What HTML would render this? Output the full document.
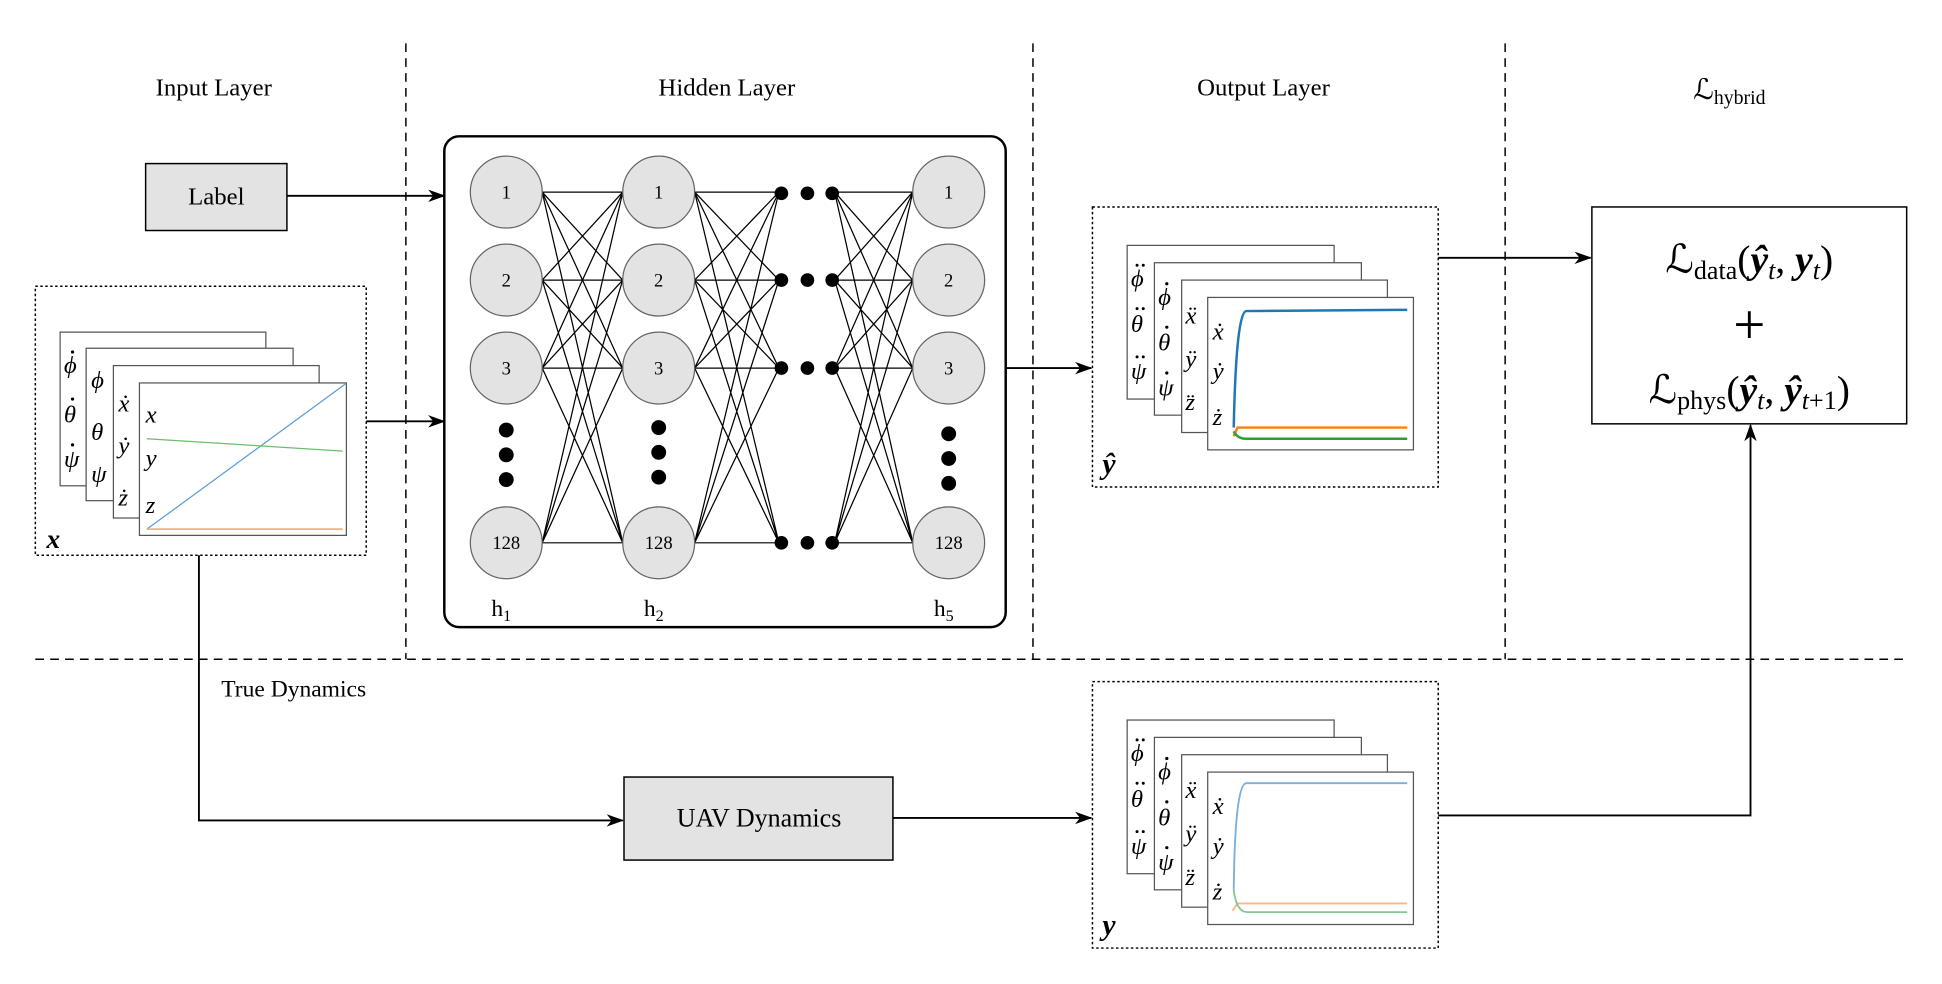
<!DOCTYPE html>
<html><head><meta charset="utf-8"><style>
html,body{margin:0;padding:0;background:#fff;}
svg{display:block;}
text{font-family:"Liberation Serif","DejaVu Serif",serif;fill:#000;}
.m{font-style:italic;}
</style></head><body>
<svg width="1942" height="984" viewBox="0 0 1566 794" xmlns="http://www.w3.org/2000/svg">
<defs>
<marker id="a" markerWidth="14" markerHeight="10" refX="13" refY="5" orient="auto" markerUnits="userSpaceOnUse">
<path d="M0,0 L14,5 L0,10 L4,5 Z" fill="#000"/></marker>
</defs>
<g stroke="#000" stroke-width="1.2" stroke-dasharray="7,5" fill="none">
<line x1="327" y1="35" x2="327" y2="532"/>
<line x1="833" y1="35" x2="833" y2="532"/>
<line x1="1214" y1="35" x2="1214" y2="532"/>
<line x1="28" y1="532" x2="1540" y2="532"/>
</g>
<g font-size="20" text-anchor="middle">
<text x="172" y="77">Input Layer</text>
<text x="586" y="77">Hidden Layer</text>
<text x="1019" y="77">Output Layer</text>
<text x="1395" y="80" font-size="23">ℒ<tspan font-size="16" dy="4">hybrid</tspan></text>
</g>
<rect x="117" y="132" width="114" height="54" fill="#e3e3e3" stroke="#000" stroke-width="1.2"/>
<text x="174" y="165" font-size="20" text-anchor="middle">Label</text>
<line x1="231" y1="158" x2="358" y2="158" stroke="#000" stroke-width="1.5" marker-end="url(#a)"/>
<rect x="28" y="231" width="267" height="217" fill="none" stroke="#000" stroke-width="1.2" stroke-dasharray="2,2"/>
<line x1="295" y1="340" x2="358" y2="340" stroke="#000" stroke-width="1.5" marker-end="url(#a)"/>
<g stroke="#555" stroke-width="1" fill="#fff">
<rect x="48" y="268" width="166" height="124"/>
<rect x="69" y="281" width="167" height="123"/>
<rect x="91" y="295" width="166" height="123"/>
<rect x="112" y="309" width="167" height="123"/>
</g>
<g font-size="20">
<text x="51" y="301" class="m">ϕ</text><text x="51" y="341" class="m">θ</text><text x="51" y="377" class="m">ψ</text>
<text x="73" y="313" class="m">ϕ</text><text x="73" y="355" class="m">θ</text><text x="73" y="389" class="m">ψ</text>
<text x="95" y="332" class="m">ẋ</text><text x="95" y="366" class="m">ẏ</text><text x="95" y="408" class="m">ż</text>
<text x="117" y="341" class="m">x</text><text x="117" y="376" class="m">y</text><text x="117" y="414" class="m">z</text>
</g>
<g fill="#000">
<circle cx="58" cy="284" r="1.3"/><circle cx="58" cy="322" r="1.3"/><circle cx="58" cy="359" r="1.3"/>
</g>
<line x1="118" y1="427" x2="278" y2="310" stroke="#5b9bd5" stroke-width="1"/>
<line x1="118" y1="354" x2="276" y2="364" stroke="#6cbf6c" stroke-width="1"/>
<line x1="118" y1="427" x2="276" y2="427" stroke="#f5b07a" stroke-width="1.4"/>
<text x="37" y="442" font-size="22" font-weight="bold" class="m">x</text>
<rect x="358" y="110" width="453" height="396" rx="12" fill="none" stroke="#000" stroke-width="2"/>
<g stroke="#000" stroke-width="1">
<path d="
M437,155L502,155 M437,155L502,226 M437,155L502,297 M437,155L502,438
M437,226L502,155 M437,226L502,226 M437,226L502,297 M437,226L502,438
M437,297L502,155 M437,297L502,226 M437,297L502,297 M437,297L502,438
M437,438L502,155 M437,438L502,226 M437,438L502,297 M437,438L502,438
M560,155L628,155 M560,155L628,226 M560,155L628,297 M560,155L628,438
M560,226L628,155 M560,226L628,226 M560,226L628,297 M560,226L628,438
M560,297L628,155 M560,297L628,226 M560,297L628,297 M560,297L628,438
M560,438L628,155 M560,438L628,226 M560,438L628,297 M560,438L628,438
M673,155L736,155 M673,155L736,226 M673,155L736,297 M673,155L736,438
M673,226L736,155 M673,226L736,226 M673,226L736,297 M673,226L736,438
M673,297L736,155 M673,297L736,226 M673,297L736,297 M673,297L736,438
M673,438L736,155 M673,438L736,226 M673,438L736,297 M673,438L736,438" fill="none"/>
</g>
<g fill="#e3e3e3" stroke="#666" stroke-width="1">
<circle cx="408" cy="155" r="29"/><circle cx="408" cy="226" r="29"/><circle cx="408" cy="297" r="29"/><circle cx="408" cy="438" r="29"/>
<circle cx="531" cy="155" r="29"/><circle cx="531" cy="226" r="29"/><circle cx="531" cy="297" r="29"/><circle cx="531" cy="438" r="29"/>
<circle cx="765" cy="155" r="29"/><circle cx="765" cy="226" r="29"/><circle cx="765" cy="297" r="29"/><circle cx="765" cy="438" r="29"/>
</g>
<g font-size="15" text-anchor="middle">
<text x="408" y="160">1</text><text x="408" y="231">2</text><text x="408" y="302">3</text><text x="408" y="443">128</text>
<text x="531" y="160">1</text><text x="531" y="231">2</text><text x="531" y="302">3</text><text x="531" y="443">128</text>
<text x="765" y="160">1</text><text x="765" y="231">2</text><text x="765" y="302">3</text><text x="765" y="443">128</text>
</g>
<g fill="#000">
<circle cx="408" cy="347" r="6"/><circle cx="408" cy="367" r="6"/><circle cx="408" cy="387" r="6"/>
<circle cx="531" cy="345" r="6"/><circle cx="531" cy="365" r="6"/><circle cx="531" cy="385" r="6"/>
<circle cx="765" cy="350" r="6"/><circle cx="765" cy="370" r="6"/><circle cx="765" cy="390" r="6"/>
<circle cx="630" cy="156" r="5.5"/><circle cx="651" cy="156" r="5.5"/><circle cx="671" cy="156" r="5.5"/>
<circle cx="630" cy="226" r="5.5"/><circle cx="651" cy="226" r="5.5"/><circle cx="671" cy="226" r="5.5"/>
<circle cx="630" cy="297" r="5.5"/><circle cx="651" cy="297" r="5.5"/><circle cx="671" cy="297" r="5.5"/>
<circle cx="630" cy="438" r="5.5"/><circle cx="651" cy="438" r="5.5"/><circle cx="671" cy="438" r="5.5"/>
</g>
<g font-size="19" text-anchor="middle">
<text x="404" y="497">h<tspan font-size="13" dy="4">1</tspan></text>
<text x="527" y="497">h<tspan font-size="13" dy="4">2</tspan></text>
<text x="761" y="497">h<tspan font-size="13" dy="4">5</tspan></text>
</g>
<line x1="811" y1="297" x2="880" y2="297" stroke="#000" stroke-width="1.5" marker-end="url(#a)"/>
<rect x="881" y="167" width="279" height="226" fill="none" stroke="#000" stroke-width="1.2" stroke-dasharray="2,2"/>
<g stroke="#555" stroke-width="1" fill="#fff">
<rect x="909" y="198" width="167" height="124"/>
<rect x="931" y="212" width="167" height="123"/>
<rect x="953" y="226" width="166" height="123"/>
<rect x="974" y="240" width="166" height="123"/>
</g>
<g font-size="20">
<text x="912" y="231" class="m">ϕ</text><text x="912" y="268" class="m">θ</text><text x="912" y="306" class="m">ψ</text>
<text x="934" y="246" class="m">ϕ</text><text x="934" y="283" class="m">θ</text><text x="934" y="319" class="m">ψ</text>
<text x="956" y="261" class="m">ẍ</text><text x="956" y="296" class="m">ÿ</text><text x="956" y="331" class="m">z̈</text>
<text x="978" y="274" class="m">ẋ</text><text x="978" y="306" class="m">ẏ</text><text x="978" y="343" class="m">ż</text>
</g>
<g fill="#000">
<circle cx="917" cy="214" r="1.2"/><circle cx="922" cy="214" r="1.2"/>
<circle cx="917" cy="249" r="1.2"/><circle cx="922" cy="249" r="1.2"/>
<circle cx="917" cy="288" r="1.2"/><circle cx="922" cy="288" r="1.2"/>
<circle cx="941" cy="229" r="1.3"/><circle cx="941" cy="264" r="1.3"/><circle cx="941" cy="301" r="1.3"/>
</g>
<path d="M995,345 Q997,252 1005,251 L1135,250" fill="none" stroke="#1f77b4" stroke-width="2"/>
<path d="M995,352 L998,345 L1135,345" fill="none" stroke="#ff7f0e" stroke-width="2"/>
<path d="M995,348 Q998,354 1005,354 L1135,354" fill="none" stroke="#2ca02c" stroke-width="2"/>
<text x="889" y="382" font-size="24" font-weight="bold" class="m">ŷ</text>
<line x1="1160" y1="208" x2="1283" y2="208" stroke="#000" stroke-width="1.5" marker-end="url(#a)"/>
<rect x="1284" y="167" width="254" height="175" fill="#fff" stroke="#000" stroke-width="1.2"/>
<g font-size="32" text-anchor="middle">
<text x="1411" y="220">ℒ<tspan font-size="21" dy="5">data</tspan><tspan dy="-5">(</tspan><tspan font-weight="bold" class="m">ŷ</tspan><tspan font-size="21" dy="5" class="m">t</tspan><tspan dy="-5">, </tspan><tspan font-weight="bold" class="m">y</tspan><tspan font-size="21" dy="5" class="m">t</tspan><tspan dy="-5">)</tspan></text>
<text x="1411" y="277" font-size="46">+</text>
<text x="1411" y="325">ℒ<tspan font-size="21" dy="5">phys</tspan><tspan dy="-5">(</tspan><tspan font-weight="bold" class="m">ŷ</tspan><tspan font-size="21" dy="5" class="m">t</tspan><tspan dy="-5">, </tspan><tspan font-weight="bold" class="m">ŷ</tspan><tspan font-size="21" dy="5" class="m">t</tspan><tspan font-size="21">+1</tspan><tspan dy="-5">)</tspan></text>
</g>
<text x="178" y="562" font-size="19">True Dynamics</text>
<polyline points="160,448 160,662 502,662" fill="none" stroke="#000" stroke-width="1.5" marker-end="url(#a)"/>
<rect x="503" y="627" width="217" height="67" fill="#e3e3e3" stroke="#000" stroke-width="1.2"/>
<text x="612" y="667" font-size="21" text-anchor="middle">UAV Dynamics</text>
<line x1="720" y1="660" x2="880" y2="660" stroke="#000" stroke-width="1.5" marker-end="url(#a)"/>
<rect x="881" y="550" width="279" height="215" fill="none" stroke="#000" stroke-width="1.2" stroke-dasharray="2,2"/>
<g stroke="#555" stroke-width="1" fill="#fff">
<rect x="909" y="581" width="167" height="124"/>
<rect x="931" y="595" width="167" height="123"/>
<rect x="953" y="609" width="166" height="123"/>
<rect x="974" y="623" width="166" height="123"/>
</g>
<g font-size="20">
<text x="912" y="614" class="m">ϕ</text><text x="912" y="651" class="m">θ</text><text x="912" y="689" class="m">ψ</text>
<text x="934" y="629" class="m">ϕ</text><text x="934" y="666" class="m">θ</text><text x="934" y="702" class="m">ψ</text>
<text x="956" y="644" class="m">ẍ</text><text x="956" y="679" class="m">ÿ</text><text x="956" y="714" class="m">z̈</text>
<text x="978" y="657" class="m">ẋ</text><text x="978" y="689" class="m">ẏ</text><text x="978" y="726" class="m">ż</text>
</g>
<g fill="#000">
<circle cx="917" cy="597" r="1.2"/><circle cx="922" cy="597" r="1.2"/>
<circle cx="917" cy="632" r="1.2"/><circle cx="922" cy="632" r="1.2"/>
<circle cx="917" cy="671" r="1.2"/><circle cx="922" cy="671" r="1.2"/>
<circle cx="941" cy="612" r="1.3"/><circle cx="941" cy="647" r="1.3"/><circle cx="941" cy="684" r="1.3"/>
</g>
<path d="M995,718 Q996,633 1005,632 L1135,632" fill="none" stroke="#7ab0dc" stroke-width="1.5"/>
<path d="M994,735 L998,729 L1135,729" fill="none" stroke="#f8b98a" stroke-width="1.5"/>
<path d="M995,718 Q997,736 1006,736 L1135,736" fill="none" stroke="#88c888" stroke-width="1.5"/>
<text x="889" y="754" font-size="24" font-weight="bold" class="m">y</text>
<polyline points="1160,658 1412,658 1412,343" fill="none" stroke="#000" stroke-width="1.5" marker-end="url(#a)"/>
</svg>
</body></html>
